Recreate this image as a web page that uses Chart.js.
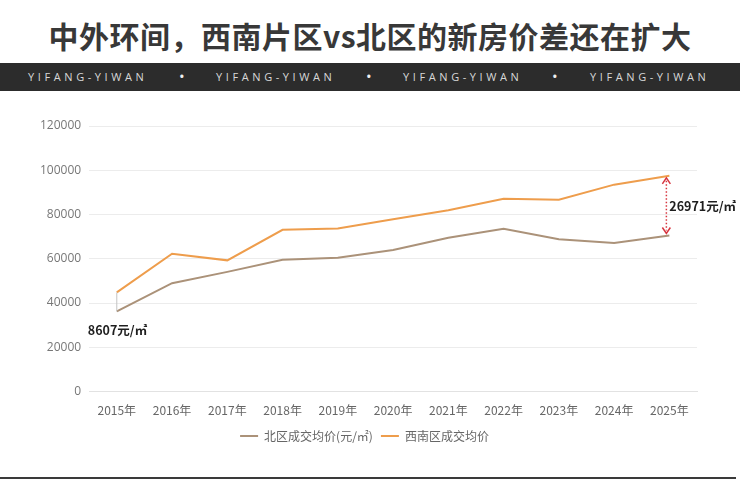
<!DOCTYPE html>
<html>
<head>
<meta charset="utf-8">
<script src="https://cdn.jsdelivr.net/npm/chart.js@4/dist/chart.umd.min.js"></script>
<style>
  body { margin: 0; background: #fff; }
  .page { position: relative; width: 740px; height: 489px; overflow: hidden; font-family: "Noto Sans CJK SC", "Open Sans", sans-serif; }
  .title { position: absolute; top: 13px; left: 0; width: 740px; text-align: center; font-size: 30px; font-weight: bold; color: #383838; letter-spacing: 0.5px; }
  .banner { position: absolute; top: 63px; left: 0; width: 740px; height: 28px; background: #2c2c2c; }
  .banner span { position: absolute; top: 6px; font-family: "Open Sans", sans-serif; font-size: 11px; letter-spacing: 3.6px; color: #d8d8d8; }
  .banner span.dot { top: 3px; font-size: 15px; letter-spacing: 0; color: #f0f0f0; }
  .bottom-line { position: absolute; top: 477px; left: 0; width: 736px; height: 2px; background: #3a3a3a; }
  .chart-box { position: absolute; top: 100px; left: 0; width: 740px; height: 370px; }
</style>
</head>
<body>
<div class="page">
  <div class="title">中外环间，西南片区vs北区的新房价差还在扩大</div>
  <div class="banner">
    <span style="left:28px">YIFANG-YIWAN</span>
    <span class="dot" style="left:179px">•</span>
    <span style="left:216px">YIFANG-YIWAN</span>
    <span class="dot" style="left:366px">•</span>
    <span style="left:403px">YIFANG-YIWAN</span>
    <span class="dot" style="left:552px">•</span>
    <span style="left:590px">YIFANG-YIWAN</span>
  </div>
  <div class="chart-box"><canvas id="price-chart"></canvas></div>
  <div class="bottom-line"></div>
</div>
<script>
// Data
const years = ["2015年", "2016年", "2017年", "2018年", "2019年", "2020年", "2021年", "2022年", "2023年", "2024年", "2025年"];
const northPrices = [36200, 49000, 54100, 59600, 60500, 64000, 69500, 73600, 68800, 67100, 70529];
const southwestPrices = [44807, 62300, 59300, 73100, 73700, 77900, 81900, 87100, 86700, 93500, 97500];
const gapStartLabel = "8607元/㎡";
const gapEndLabel = "26971元/㎡";

const northColor = "#ab9279";
const southwestColor = "#ee9d4c";

// Gap markers on first and last year
const gapMarkers = {
  id: "gapMarkers",
  afterDatasetsDraw(chart) {
    const ctx = chart.ctx;
    const x = chart.scales.x;
    const y = chart.scales.y;
    const last = years.length - 1;

    // first year: thin line + label
    const x0 = x.getPixelForValue(0);
    const top0 = y.getPixelForValue(southwestPrices[0]);
    const bottom0 = y.getPixelForValue(northPrices[0]);
    ctx.save();
    ctx.strokeStyle = "#c4c4c4";
    ctx.lineWidth = 1;
    ctx.beginPath();
    ctx.moveTo(x0, top0);
    ctx.lineTo(x0, bottom0);
    ctx.stroke();
    ctx.fillStyle = "#1e1e1e";
    ctx.font = "bold 12.5px 'Noto Sans CJK SC', sans-serif";
    ctx.textAlign = "left";
    ctx.textBaseline = "middle";
    ctx.fillText(gapStartLabel, x0 - 29, bottom0 + 19);

    // last year: dotted red double arrow + label
    const x1 = x.getPixelForValue(last) - 3;
    const top1 = y.getPixelForValue(southwestPrices[last]) + 2;
    const bottom1 = y.getPixelForValue(northPrices[last]) - 2;
    ctx.strokeStyle = "#d7353f";
    ctx.lineWidth = 1.5;
    ctx.setLineDash([1.5, 2]);
    ctx.beginPath();
    ctx.moveTo(x1, top1 + 3);
    ctx.lineTo(x1, bottom1 - 3);
    ctx.stroke();
    ctx.setLineDash([]);
    ctx.beginPath();
    ctx.moveTo(x1 - 4, top1 + 6);
    ctx.lineTo(x1, top1);
    ctx.lineTo(x1 + 4, top1 + 6);
    ctx.moveTo(x1 - 4, bottom1 - 6);
    ctx.lineTo(x1, bottom1);
    ctx.lineTo(x1 + 4, bottom1 - 6);
    ctx.stroke();
    ctx.fillStyle = "#1e1e1e";
    ctx.fillText(gapEndLabel, x1 + 3, (top1 + bottom1) / 2 + 1);
    ctx.restore();
  },
};

const canvas = document.getElementById("price-chart");
new Chart(canvas, {
  type: "line",
  data: {
    labels: years,
    datasets: [
      {
        label: "北区成交均价(元/㎡)",
        data: northPrices,
        borderColor: northColor,
        backgroundColor: northColor,
        borderWidth: 2,
        pointRadius: 0,
        tension: 0,
      },
      {
        label: "西南区成交均价",
        data: southwestPrices,
        borderColor: southwestColor,
        backgroundColor: southwestColor,
        borderWidth: 2,
        pointRadius: 0,
        tension: 0,
      },
    ],
  },
  options: {
    responsive: true,
    maintainAspectRatio: false,
    animation: false,
    layout: {
      padding: { left: 32, right: 43, top: 26, bottom: 18 },
    },
    plugins: {
      legend: {
        position: "bottom",
        labels: {
          usePointStyle: true,
          pointStyle: "line",
          pointStyleWidth: 18,
          padding: 8,
          color: "#666",
          font: { size: 12, family: "'Noto Sans CJK SC', sans-serif" },
        },
      },
      tooltip: { enabled: false },
    },
    scales: {
      x: {
        offset: true,
        grid: { display: false },
        border: { display: true, color: "#e2e2e2" },
        ticks: {
          color: "#666",
          padding: 4,
          maxRotation: 0,
          font: { size: 12, family: "'Noto Sans CJK SC', sans-serif" },
        },
      },
      y: {
        min: 0,
        max: 120000,
        ticks: {
          stepSize: 20000,
          color: "#777",
          padding: 8,
          font: { size: 12, family: "'Open Sans', sans-serif" },
          callback: (value) => String(value),
        },
        grid: { color: "#ececec", drawTicks: false },
        border: { display: false },
      },
    },
  },
  plugins: [gapMarkers],
});
</script>
</body>
</html>
